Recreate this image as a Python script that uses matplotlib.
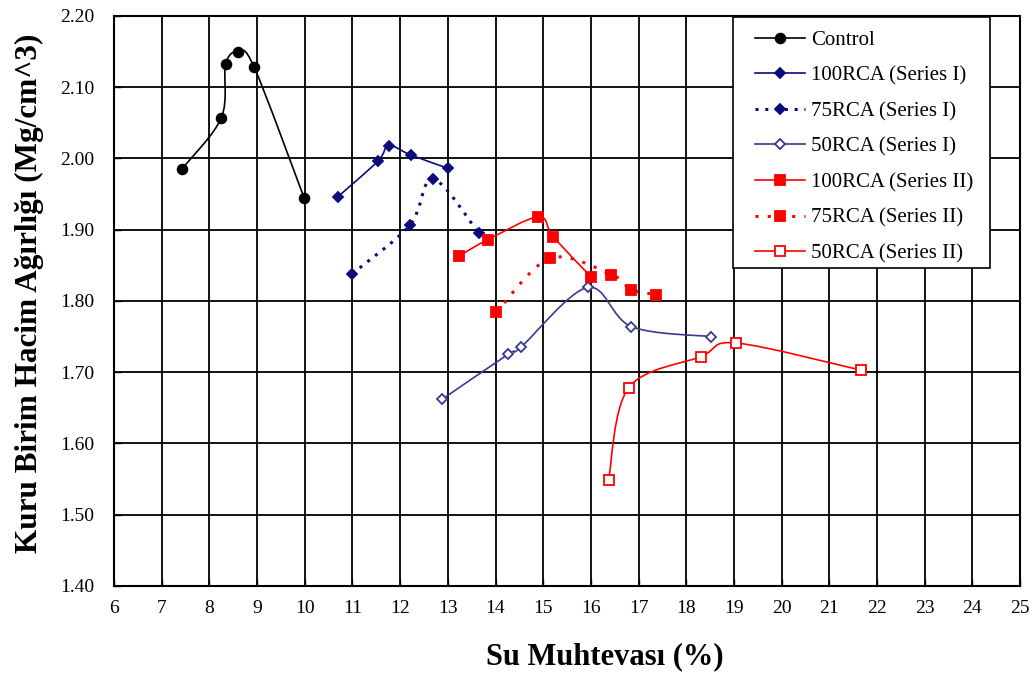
import matplotlib
matplotlib.use("Agg")
import matplotlib.pyplot as plt
from matplotlib.path import Path
from matplotlib.patches import PathPatch, Rectangle
from matplotlib.lines import Line2D
import numpy as np

plt.rcParams['font.family'] = ['Liberation Serif', 'DejaVu Serif']

# ---- data ----
control_x = [7.42, 8.25, 8.34, 8.60, 8.94, 9.99]
control_y = [1.985, 2.057, 2.132, 2.150, 2.128, 1.944]

rca100_s1_x = [10.69, 11.53, 11.76, 12.22, 13.01]
rca100_s1_y = [1.946, 1.996, 2.018, 2.005, 1.986]

rca75_s1_x = [10.99, 12.20, 12.69, 13.65]
rca75_s1_y = [1.838, 1.906, 1.971, 1.895]

rca50_s1_x = [12.88, 14.26, 14.53, 15.93, 16.85, 18.51]
rca50_s1_y = [1.662, 1.725, 1.735, 1.819, 1.764, 1.750]

rca100_s2_x = [13.23, 13.84, 14.90, 15.21, 16.00]
rca100_s2_y = [1.863, 1.886, 1.918, 1.890, 1.834]

rca75_s2_x = [14.02, 15.15, 16.43, 16.85, 17.37]
rca75_s2_y = [1.784, 1.860, 1.837, 1.816, 1.809]

rca50_s2_x = [16.37, 16.79, 18.31, 19.05, 21.66]
rca50_s2_y = [1.549, 1.678, 1.722, 1.741, 1.703]

x_ticks = list(range(6, 26))
y_ticks = [1.40, 1.50, 1.60, 1.70, 1.80, 1.90, 2.00, 2.10, 2.20]
y_tick_labels = ["1.40", "1.50", "1.60", "1.70", "1.80", "1.90", "2.00", "2.10", "2.20"]

labels = ["Control", "100RCA (Series I)", "75RCA (Series I)", "50RCA (Series I)",
          "100RCA (Series II)", "75RCA (Series II)", "50RCA (Series II)"]

NAVY = "#0b0b7a"
NAVY2 = "#3a3a8c"
RED = "#ff0000"

series = [
    (control_x, control_y, dict(color="black", ls="-", lw=1.2, marker="o", ms=7, mfc="black", mec="black")),
    (rca100_s1_x, rca100_s1_y, dict(color=NAVY, ls="-", lw=1.2, marker="D", ms=5.5, mfc=NAVY, mec=NAVY)),
    (rca75_s1_x, rca75_s1_y, dict(color=NAVY, ls=(0, (1.0, 2.2)), lw=2.2, marker="D", ms=5.5, mfc=NAVY, mec=NAVY)),
    (rca50_s1_x, rca50_s1_y, dict(color=NAVY2, ls="-", lw=1.2, marker="D", ms=5, mfc="white", mec=NAVY2)),
    (rca100_s2_x, rca100_s2_y, dict(color=RED, ls="-", lw=1.2, marker="s", ms=7.5, mfc=RED, mec=RED)),
    (rca75_s2_x, rca75_s2_y, dict(color=RED, ls=(0, (1.0, 3.0)), lw=2.2, marker="s", ms=7.5, mfc=RED, mec=RED)),
    (rca50_s2_x, rca50_s2_y, dict(color=RED, ls="-", lw=1.2, marker="s", ms=6.5, mfc="white", mec=RED)),
]


def smooth_path(xs, ys):
    pts = np.column_stack([xs, ys])
    n = len(pts)
    verts = [pts[0]]
    codes = [Path.MOVETO]
    for i in range(n - 1):
        p0 = pts[i - 1] if i > 0 else pts[i]
        p1 = pts[i]
        p2 = pts[i + 1]
        p3 = pts[i + 2] if i + 2 < n else pts[i + 1]
        c1 = p1 + (p2 - p0) / 6.0
        c2 = p2 - (p3 - p1) / 6.0
        verts += [c1, c2, p2]
        codes += [Path.CURVE4] * 3
    return Path(verts, codes)


fig = plt.figure(figsize=(10.31, 6.74), dpi=100)
ax = fig.add_axes([0.1106, 0.1306, 0.8788, 0.8457])

handles = []
for (xs, ys, st), lab in zip(series, labels):
    patch = PathPatch(smooth_path(xs, ys), facecolor="none", edgecolor=st["color"],
                      lw=st["lw"], ls=st["ls"], zorder=3)
    ax.add_patch(patch)
    ax.plot(xs, ys, ls="none", marker=st["marker"], ms=st["ms"], mfc=st["mfc"],
            mec=st["mec"], mew=1.3, zorder=4)
    handles.append(Line2D([], [], color=st["color"], ls=st["ls"], lw=st["lw"],
                          marker=st["marker"], ms=st["ms"], mfc=st["mfc"],
                          mec=st["mec"], mew=1.3))

ax.set_xlim(6, 25)
ax.set_ylim(1.40, 2.20)
ax.set_xticks(x_ticks)
ax.set_xticklabels([str(t) for t in x_ticks])
ax.set_yticks(y_ticks)
ax.set_yticklabels(y_tick_labels)
ax.grid(True, color="black", lw=1.3)
ax.set_axisbelow(True)
ax.tick_params(axis="both", which="both", direction="in", length=5, width=1.0,
               labelsize=14, colors="black")
ax.tick_params(axis="y", pad=14)
ax.tick_params(axis="x", pad=10)
for sp in ax.spines.values():
    sp.set_linewidth(1.5)
    sp.set_color("black")

# legend frame drawn separately for exact padding
frame = Rectangle((0.683, 0.558), 0.967 - 0.683, 0.998 - 0.558, transform=ax.transAxes,
                  facecolor="white", edgecolor="black", lw=1.2, zorder=5)
ax.add_patch(frame)
leg = ax.legend(handles, labels, loc="upper left", bbox_to_anchor=(0.7075, 0.975),
                borderaxespad=0, borderpad=0, fontsize=15, frameon=False,
                handlelength=2.4, handletextpad=0.3, labelspacing=0.77)
leg.set_zorder(6)

fig.text(0.587, 0.025, "Su Muhtevası (%)", ha="center", va="center",
         fontsize=22, fontweight="bold")
fig.text(0.029, 0.565, "Kuru Birim Hacim Ağırlığı (Mg/cm^3)", ha="center", va="center",
         rotation=90, fontsize=22.5, fontweight="bold")

fig.savefig("out.png", dpi=100)
